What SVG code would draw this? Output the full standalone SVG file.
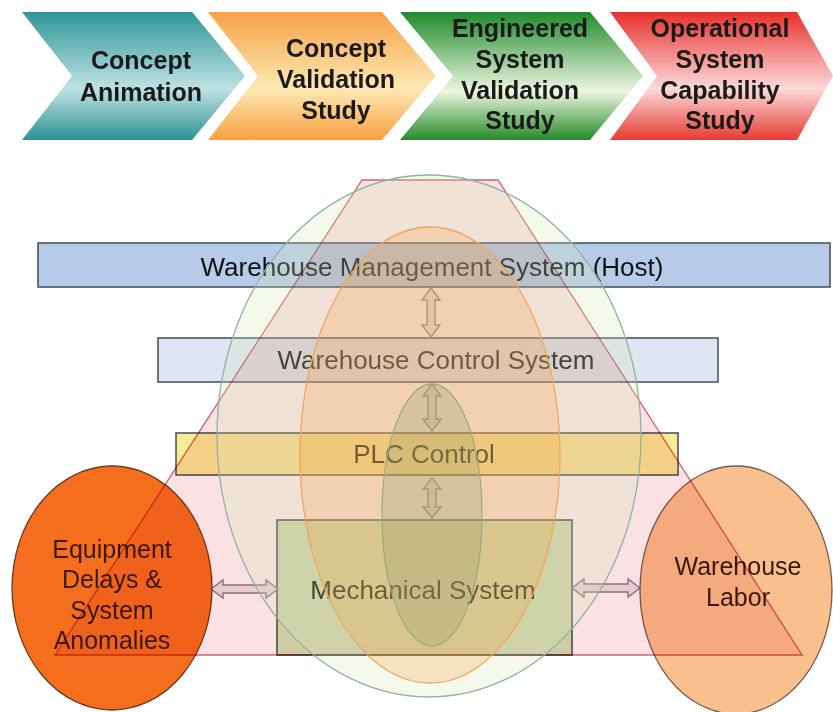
<svg xmlns="http://www.w3.org/2000/svg" width="833" height="712" viewBox="0 0 833 712">
  <defs>
    <linearGradient id="gTeal" x1="0" y1="0" x2="0" y2="1">
      <stop offset="0" stop-color="#2e9598"/>
      <stop offset="0.6" stop-color="#bfe2e4"/>
      <stop offset="1" stop-color="#2e9194"/>
    </linearGradient>
    <linearGradient id="gOrange" x1="0" y1="0" x2="0" y2="1">
      <stop offset="0" stop-color="#f7a046"/>
      <stop offset="0.6" stop-color="#fde9b4"/>
      <stop offset="1" stop-color="#f7a040"/>
    </linearGradient>
    <linearGradient id="gGreen" x1="0" y1="0" x2="0" y2="1">
      <stop offset="0" stop-color="#1f8a2c"/>
      <stop offset="0.62" stop-color="#ecf6e0"/>
      <stop offset="1" stop-color="#248a2a"/>
    </linearGradient>
    <linearGradient id="gRed" x1="0" y1="0" x2="0" y2="1">
      <stop offset="0" stop-color="#e8302c"/>
      <stop offset="0.6" stop-color="#fbdada"/>
      <stop offset="1" stop-color="#e63a32"/>
    </linearGradient>
    <style>
      .phase text { font-family: "Liberation Sans", Arial, sans-serif; font-weight: bold; font-size: 25px; fill: #1a1a1a; text-anchor: middle; }
      .box { stroke: #454b56; stroke-width: 1.5; }
      .lbl { font-family: "Liberation Sans", Arial, sans-serif; font-size: 26px; text-anchor: middle; fill: #101010; }
      .side { font-family: "Liberation Sans", Arial, sans-serif; font-size: 25px; text-anchor: middle; fill: #3a1a0c; }
      .arrow { fill: #ebe4e8; stroke: #86808e; stroke-width: 1.4; stroke-linejoin: miter; }
      .scope { stroke-width: 1.3; fill-opacity: 0.25; }
    </style>
  </defs>

  <rect width="833" height="712" fill="#ffffff"/>

  <!-- lifecycle phases -->
  <g id="phase-concept-animation" class="phase">
    <polygon points="22,12 192,12 245,76 192,140 22,140 72,76" fill="url(#gTeal)"/>
    <text x="141" y="69">Concept</text>
    <text x="141" y="101">Animation</text>
  </g>
  <g id="phase-concept-validation" class="phase">
    <polygon points="208,12 382,12 436,76 382,140 208,140 258,76" fill="url(#gOrange)"/>
    <text x="336" y="57">Concept</text>
    <text x="336" y="88">Validation</text>
    <text x="336" y="119">Study</text>
  </g>
  <g id="phase-engineered" class="phase">
    <polygon points="400,12 590,12 643,76 590,140 400,140 453,76" fill="url(#gGreen)"/>
    <text x="520" y="37">Engineered</text>
    <text x="520" y="68">System</text>
    <text x="520" y="99">Validation</text>
    <text x="520" y="129">Study</text>
  </g>
  <g id="phase-operational" class="phase">
    <polygon points="610,12 797,12 833,76 797,140 610,140 657,76" fill="url(#gRed)"/>
    <text x="720" y="37">Operational</text>
    <text x="720" y="68">System</text>
    <text x="720" y="99">Capability</text>
    <text x="720" y="129">Study</text>
  </g>

  <!-- system layers -->
  <g id="wms">
    <rect class="box" x="38" y="243" width="792" height="44" fill="#b6cbe9"/>
    <text class="lbl" x="432" y="276" fill="#0e1a30">Warehouse Management System (Host)</text>
  </g>
  <g id="wcs">
    <rect class="box" x="158" y="338" width="560" height="44" fill="#dfe5f3"/>
    <text class="lbl" x="436" y="369">Warehouse Control System</text>
  </g>
  <g id="plc">
    <rect class="box" x="176" y="433" width="502" height="42" fill="#f8ec96"/>
    <text class="lbl" x="424" y="463">PLC Control</text>
  </g>
  <g id="mechanical">
    <rect class="box" x="277" y="520" width="295" height="135" fill="#d2e9ba"/>
    <text class="lbl" x="423" y="599">Mechanical System</text>
  </g>

  <!-- links between layers -->
  <g id="connectors">
    <path class="arrow" d="M431,288 L440,300 L435,300 L435,325 L440,325 L431,337 L422,325 L427,325 L427,300 L422,300 Z"/>
    <path class="arrow" d="M432,384 L441,396 L436,396 L436,419 L441,419 L432,431 L423,419 L428,419 L428,396 L423,396 Z"/>
    <path class="arrow" d="M432,478 L441,489 L436,489 L436,507 L441,507 L432,518 L423,507 L428,507 L428,489 L423,489 Z"/>
    <path class="arrow" d="M211,589 L223,580 L223,585 L266,585 L266,580 L278,589 L266,598 L266,593 L223,593 L223,598 Z"/>
    <path class="arrow" d="M572,588 L584,579 L584,584 L628,584 L628,579 L640,588 L628,597 L628,592 L584,592 L584,597 Z"/>
  </g>

  <!-- external influences -->
  <g id="equipment-delays">
    <ellipse cx="112" cy="588" rx="100" ry="122" fill="#f46e1e" stroke="#6e3a1e" stroke-width="1.3"/>
    <text class="side" x="112" y="558">Equipment</text>
    <text class="side" x="112" y="588">Delays &amp;</text>
    <text class="side" x="112" y="619">System</text>
    <text class="side" x="112" y="649">Anomalies</text>
  </g>
  <g id="warehouse-labor">
    <ellipse cx="736" cy="590" rx="96" ry="124" fill="#f9c08e" stroke="#7a5848" stroke-width="1.3"/>
    <text class="side" x="738" y="575">Warehouse</text>
    <text class="side" x="738" y="606">Labor</text>
  </g>

  <!-- scope overlays -->
  <polygon id="scope-operational" points="362,180 498,180 802,655 55,655" fill="#fbe1e4" stroke="#d4606e" stroke-width="1.3" style="mix-blend-mode:multiply"/>
  <ellipse id="scope-engineered" class="scope" cx="429" cy="436" rx="212" ry="261" fill="#d4e8b4" stroke="#8eb2a4"/>
  <ellipse id="scope-validation" class="scope" cx="430" cy="455" rx="130" ry="228" fill="#f8a040" stroke="#f0a460"/>
  <ellipse id="scope-animation" class="scope" cx="432" cy="515" rx="50" ry="131" fill="#8c9864" stroke="#9caa84"/>
</svg>
